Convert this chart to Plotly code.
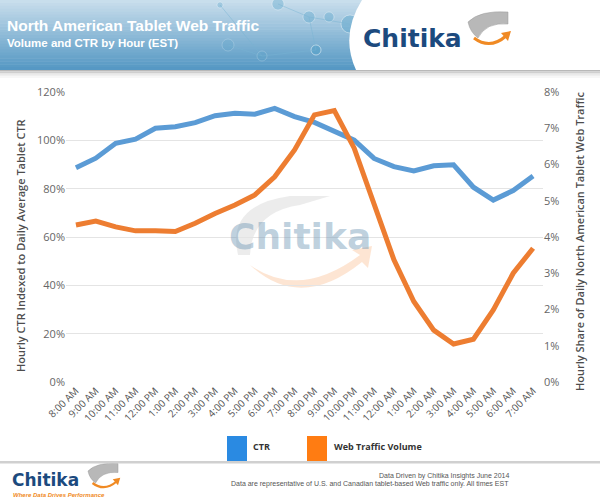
import plotly.graph_objects as go

hours = ["8:00 AM", "9:00 AM", "10:00 AM", "11:00 AM", "12:00 PM", "1:00 PM", "2:00 PM",
         "3:00 PM", "4:00 PM", "5:00 PM", "6:00 PM", "7:00 PM", "8:00 PM", "9:00 PM",
         "10:00 PM", "11:00 PM", "12:00 AM", "1:00 AM", "2:00 AM", "3:00 AM", "4:00 AM",
         "5:00 AM", "6:00 AM", "7:00 AM"]
ctr = [88.7, 92.6, 98.8, 100.5, 105.0, 105.6, 107.3, 110.2, 111.2, 110.8, 113.2, 109.8,
       107.4, 103.6, 100.1, 92.5, 89.1, 87.3, 89.5, 89.9, 80.6, 75.3, 79.2, 85.2]
traffic = [4.33, 4.44, 4.28, 4.17, 4.17, 4.15, 4.38, 4.65, 4.88, 5.16, 5.66, 6.40,
           7.37, 7.49, 6.45, 4.93, 3.37, 2.22, 1.43, 1.05, 1.18, 1.99, 3.00, 3.69]
left_ticks = [0, 20, 40, 60, 80, 100, 120]
left_labels = ["0%", "20%", "40%", "60%", "80%", "100%", "120%"]
right_ticks = [0, 1, 2, 3, 4, 5, 6, 7, 8]
right_labels = ["0%", "1%", "2%", "3%", "4%", "5%", "6%", "7%", "8%"]

W, H = 600, 500
L, R, T, B = 66, 57, 92, 118
PW, PH = W - L - R, H - T - B

def X(px):
    return (px - L) / PW

def Y(py):
    return (H - B - py) / PH

def path(points, close=True):
    s = "M " + " L ".join(f"{X(a):.4f},{Y(b):.4f}" for a, b in points)
    return s + (" Z" if close else "")

def qpath(start, segs, close=False):
    s = f"M {X(start[0]):.4f},{Y(start[1]):.4f}"
    for (cx, cy), (ex, ey) in segs:
        s += f" Q {X(cx):.4f},{Y(cy):.4f} {X(ex):.4f},{Y(ey):.4f}"
    return s + (" Z" if close else "")

fig = go.Figure()
fig.add_trace(go.Scatter(x=hours, y=ctr, name="CTR", mode="lines",
                         line=dict(color="#5b9bd5", width=5), yaxis="y"))
fig.add_trace(go.Scatter(x=hours, y=traffic, name="Web Traffic Volume", mode="lines",
                         line=dict(color="#ed7d31", width=5), yaxis="y2"))

shapes = []
# header gradient
n = 24
top_c = (200, 222, 236)
bot_c = (86, 152, 196)
hh = 70
for i in range(n):
    t = i / (n - 1)
    c = tuple(int(top_c[k] + (bot_c[k] - top_c[k]) * t) for k in range(3))
    shapes.append(dict(type="rect", xref="paper", yref="paper",
                       x0=X(0), x1=X(600), y0=Y(i * hh / n), y1=Y((i + 1) * hh / n + 0.5),
                       fillcolor=f"rgb{c}", line=dict(width=0), layer="below"))
# header shadow
for i, col in enumerate(["#b8b8b8", "#cfcfcf", "#e2e2e2", "#efefef", "#f7f7f7"]):
    shapes.append(dict(type="rect", xref="paper", yref="paper",
                       x0=X(0), x1=X(600), y0=Y(70 + i * 1.6), y1=Y(70 + (i + 1) * 1.6),
                       fillcolor=col, line=dict(width=0), layer="below"))
# decorative network nodes
for (cx, cy, r, op) in [(278, 4, 6, 0.35), (309, 17, 6, 0.35), (329, 17, 5, 0.35),
                        (350, 24, 9, 0.4), (316, 50, 5, 0.5), (220, 5, 3, 0.3),
                        (228, 45, 6, 0.2), (262, 56, 5, 0.2), (392, 15, 6, 0.3)]:
    shapes.append(dict(type="circle", xref="paper", yref="paper",
                       x0=X(cx - r), x1=X(cx + r), y0=Y(cy - r), y1=Y(cy + r),
                       fillcolor=f"rgba(80,160,200,{op})", line=dict(color=f"rgba(255,255,255,{op})", width=1)))
for (a, b) in [((220, 5), (262, 56)), ((262, 56), (316, 50)), ((316, 50), (309, 17)),
               ((278, 4), (309, 17)), ((309, 17), (350, 24)), ((228, 45), (262, 56))]:
    shapes.append(dict(type="line", xref="paper", yref="paper",
                       x0=X(a[0]), y0=Y(a[1]), x1=X(b[0]), y1=Y(b[1]),
                       line=dict(color="rgba(120,180,210,0.45)", width=1)))
# white logo area with curved edge
shapes.append(dict(type="path", xref="paper", yref="paper",
                   path=qpath((362, 0), [((340, 35), (356, 70))]) + " " +
                   f"L {X(600):.4f},{Y(70):.4f} L {X(600):.4f},{Y(0):.4f} Z",
                   fillcolor="white", line=dict(width=0)))

def logo(x0, y0, s):
    out = []
    out.append(dict(type="path", xref="paper", yref="paper",
                    path=qpath((x0, y0 + 4 * s), [((x0 + 12 * s, y0 - 8 * s), (x0 + 40 * s, y0 - 6 * s))])
                    + f" L {X(x0 + 40 * s):.4f},{Y(y0 + 6 * s):.4f}"
                    + f" Q {X(x0 + 18 * s):.4f},{Y(y0 + 4 * s):.4f} {X(x0 + 10 * s):.4f},{Y(y0 + 20 * s):.4f}"
                    + f" Q {X(x0 + 2 * s):.4f},{Y(y0 + 14 * s):.4f} {X(x0):.4f},{Y(y0 + 4 * s):.4f} Z",
                    fillcolor="#b8b8b8", line=dict(color="#9a9a9a", width=0.5)))
    out.append(dict(type="path", xref="paper", yref="paper",
                    path=qpath((x0 + 6 * s, y0 + 20 * s), [((x0 + 22 * s, y0 + 32 * s), (x0 + 38 * s, y0 + 18 * s))]),
                    line=dict(color="#f08a24", width=3 * s)))
    out.append(dict(type="path", xref="paper", yref="paper",
                    path=path([(x0 + 33 * s, y0 + 15 * s), (x0 + 43 * s, y0 + 13 * s), (x0 + 40 * s, y0 + 23 * s)]),
                    fillcolor="#f08a24", line=dict(width=0)))
    return out

shapes += logo(468, 18, 1.0)
shapes += logo(88, 468, 0.75)

# watermark
shapes.append(dict(type="path", xref="paper", yref="paper",
                   path=qpath((238, 255), [((226, 205), (290, 196))]) + f" L {X(330):.4f},{Y(196):.4f}"
                   + f" L {X(300):.4f},{Y(205):.4f} Q {X(252):.4f},{Y(212):.4f} {X(250):.4f},{Y(255):.4f} Z",
                   fillcolor="rgba(200,200,200,0.35)", line=dict(width=0), layer="below"))
shapes.append(dict(type="path", xref="paper", yref="paper",
                   path=qpath((250, 265), [((300, 300), (360, 255))]) + f" L {X(352):.4f},{Y(250):.4f}"
                   + f" L {X(372):.4f},{Y(246):.4f} L {X(368):.4f},{Y(268):.4f} L {X(362):.4f},{Y(262):.4f}"
                   + f" Q {X(300):.4f},{Y(312):.4f} {X(250):.4f},{Y(265):.4f} Z",
                   fillcolor="rgba(250,180,130,0.35)", line=dict(width=0), layer="below"))

# footer separator
shapes.append(dict(type="rect", xref="paper", yref="paper",
                   x0=X(0), x1=X(600), y0=Y(461), y1=Y(463.5),
                   fillcolor="#d0d0d0", line=dict(width=0)))
# legend squares
shapes.append(dict(type="rect", xref="paper", yref="paper", x0=X(227), x1=X(247),
                   y0=Y(436), y1=Y(461), fillcolor="#2a8ae2", line=dict(width=0)))
shapes.append(dict(type="rect", xref="paper", yref="paper", x0=X(307), x1=X(327),
                   y0=Y(436), y1=Y(461), fillcolor="#ff7c12", line=dict(width=0)))

ann = []
def A(text, px, py, size, color, xanchor="left", yanchor="middle", bold=False, italic=False,
      angle=0, family="Liberation Sans, Arial, sans-serif", weight=None):
    if bold:
        text = f"<b>{text}</b>"
    if italic:
        text = f"<i>{text}</i>"
    f = dict(size=size, color=color, family=family)
    if weight:
        f["weight"] = weight
    ann.append(dict(text=text, x=X(px), y=Y(py), xref="paper", yref="paper",
                    xanchor=xanchor, yanchor=yanchor, showarrow=False, textangle=angle,
                    font=f, borderpad=0))

A("North American Tablet Web Traffic", 6, 25, 15.5, "white", bold=True)
A("Volume and CTR by Hour (EST)", 6, 43, 11.5, "white", bold=True)
A("Chitika", 362, 38, 25, "#1c4a7e", bold=True, family="DejaVu Sans, sans-serif")
A("Chitika", 11, 480, 17, "#1c4a7e", bold=True, family="DejaVu Sans, sans-serif")
A("Where Data Drives Performance", 12, 495, 6, "#f08a24", bold=True, italic=True)
A("Data Driven by Chitika Insights June 2014", 510, 476, 7, "#555555", xanchor="right")
A("Data are representative of U.S. and Canadian tablet-based Web traffic only. All times EST",
  510, 484, 7, "#555555", xanchor="right")
A("Chitika", 300, 236, 36, "rgba(110,150,180,0.45)", xanchor="center", bold=True,
  family="DejaVu Sans, sans-serif")
A("Hourly CTR Indexed to Daily Average Tablet CTR", 20, 246, 11, "#4d4d4d",
  xanchor="center", angle=-90, family="Open Sans, sans-serif", weight=600)
A("Hourly Share of Daily North American Tablet Web Traffic", 579, 241, 11, "#4d4d4d",
  xanchor="center", angle=-90, family="Open Sans, sans-serif", weight=600)
A("CTR", 252, 447, 9, "#333333", bold=True, family="Open Sans, sans-serif")
A("Web Traffic Volume", 333, 447, 9, "#333333", bold=True, family="Open Sans, sans-serif")

fig.update_layout(
    width=W, height=H, autosize=False,
    margin=dict(l=L, r=R, t=T, b=B),
    paper_bgcolor="white", plot_bgcolor="white",
    showlegend=False,
    font=dict(family="Open Sans, sans-serif", color="#666666"),
    xaxis=dict(type="category", range=[-0.5, len(hours) - 0.5], showgrid=False,
               showline=False, zeroline=False, ticks="", tickangle=-45,
               tickfont=dict(size=10, color="#555555")),
    yaxis=dict(range=[0, 120], tickvals=left_ticks, ticktext=left_labels, showgrid=True,
               gridcolor="#e4e4e4", gridwidth=1, zeroline=False, showline=False,
               tickfont=dict(size=11, color="#666666"), ticks=""),
    yaxis2=dict(range=[0, 8], tickvals=right_ticks, ticktext=right_labels, overlaying="y",
                side="right", showgrid=False, zeroline=False, showline=False,
                tickfont=dict(size=11, color="#666666"), ticks=""),
    shapes=shapes,
    annotations=ann,
)

fig.write_html("out.html", config={"displayModeBar": False},
               post_script="document.body.style.margin='0';")
